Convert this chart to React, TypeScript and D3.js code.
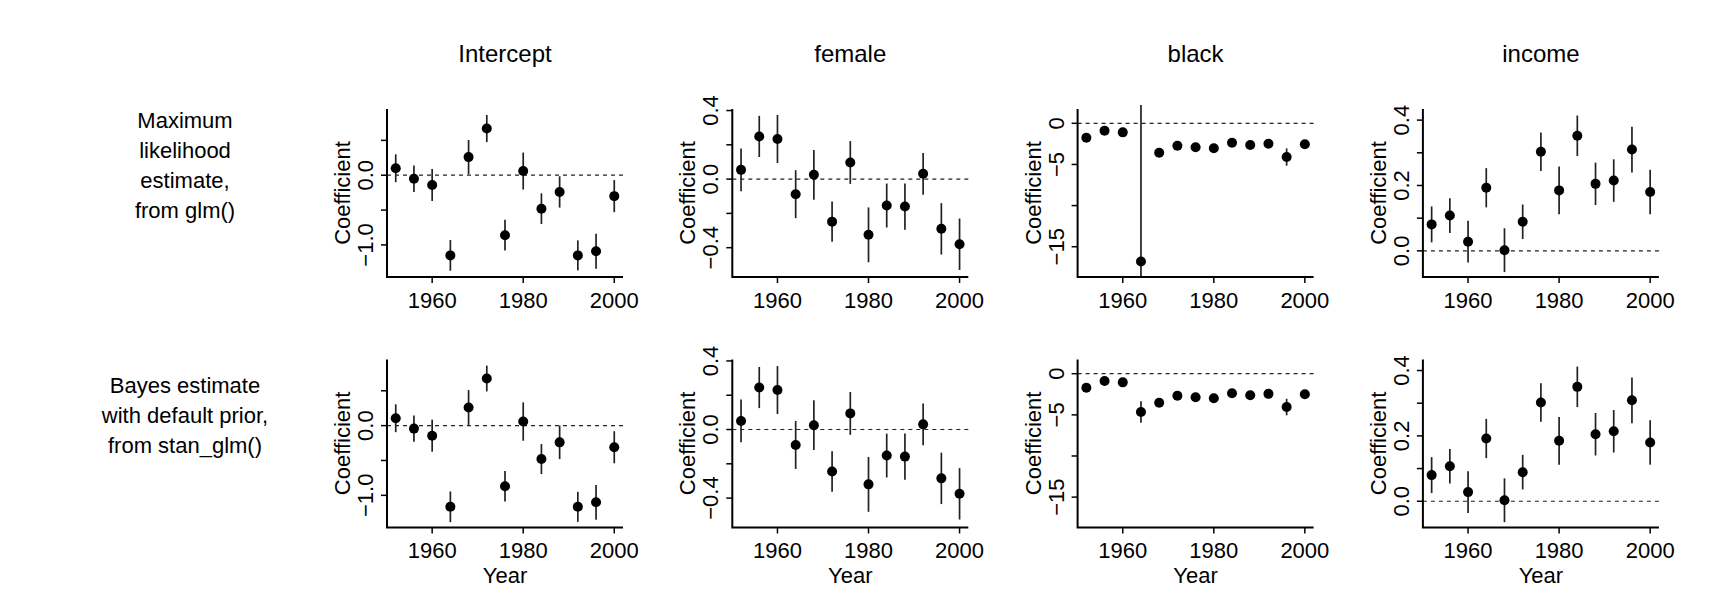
import { useEffect } from 'react'
import * as d3 from 'd3'

const YEARS = [1952, 1956, 1960, 1964, 1968, 1972, 1976, 1980, 1984, 1988, 1992, 1996, 2000]
const COLUMNS = ['Intercept', 'female', 'black', 'income']
const ROW_LABELS = [
  ['Maximum', 'likelihood', 'estimate,', 'from glm()'],
  ['Bayes estimate', 'with default prior,', 'from stan_glm()'],
]

// maximum likelihood (glm)
const ML_INTERCEPT = [0.10, -0.05, -0.14, -1.15, 0.26, 0.67, -0.86, 0.06, -0.48, -0.24, -1.15, -1.09, -0.30]
const ML_INTERCEPT_SE = [0.20, 0.19, 0.23, 0.22, 0.245, 0.195, 0.22, 0.265, 0.22, 0.225, 0.215, 0.25, 0.23]
const ML_FEMALE = [0.054, 0.249, 0.234, -0.088, 0.025, -0.248, 0.097, -0.325, -0.154, -0.16, 0.031, -0.29, -0.38]
const ML_FEMALE_SE = [0.125, 0.12, 0.14, 0.14, 0.145, 0.118, 0.125, 0.16, 0.128, 0.135, 0.122, 0.15, 0.15]
const ML_BLACK = [-1.75, -0.9, -1.1, -16.8, -3.57, -2.72, -2.92, -3.04, -2.36, -2.64, -2.48, -4.1, -2.55]
const ML_BLACK_SE = [0.4, 0.35, 0.4, 1000, 0.4, 0.3, 0.3, 0.3, 0.3, 0.3, 0.35, 1.05, 0.4]
const ML_INCOME = [0.081, 0.108, 0.028, 0.193, 0.002, 0.089, 0.303, 0.185, 0.352, 0.205, 0.215, 0.31, 0.18]
const ML_INCOME_SE = [0.055, 0.053, 0.064, 0.06, 0.067, 0.053, 0.059, 0.073, 0.062, 0.065, 0.065, 0.07, 0.068]

// bayes (stan_glm)
const BA_INTERCEPT = [0.106, -0.043, -0.144, -1.165, 0.26, 0.676, -0.87, 0.058, -0.48, -0.24, -1.165, -1.10, -0.31]
const BA_INTERCEPT_SE = [0.20, 0.19, 0.23, 0.22, 0.25, 0.185, 0.22, 0.275, 0.215, 0.24, 0.215, 0.25, 0.23]
const BA_FEMALE = [0.05, 0.245, 0.23, -0.09, 0.025, -0.245, 0.094, -0.32, -0.152, -0.158, 0.03, -0.285, -0.375]
const BA_FEMALE_SE = [0.125, 0.12, 0.14, 0.14, 0.145, 0.118, 0.125, 0.16, 0.128, 0.135, 0.122, 0.15, 0.15]
const BA_BLACK = [-1.70, -0.89, -1.05, -4.65, -3.52, -2.67, -2.87, -2.99, -2.38, -2.62, -2.45, -4.05, -2.5]
const BA_BLACK_SE = [0.4, 0.35, 0.4, 1.3, 0.4, 0.3, 0.3, 0.3, 0.3, 0.3, 0.35, 1.0, 0.4]
const BA_INCOME = [0.08, 0.107, 0.028, 0.192, 0.003, 0.089, 0.302, 0.185, 0.35, 0.205, 0.214, 0.309, 0.18]
const BA_INCOME_SE = [0.055, 0.053, 0.064, 0.06, 0.067, 0.053, 0.059, 0.073, 0.062, 0.065, 0.065, 0.07, 0.068]

// y ranges (already padded like R's default 4%)
const YLIMS: [number, number][] = [[-1.46, 0.95], [-0.571, 0.409], [-18.68, 1.74], [-0.080, 0.434]]
const YTICKS = [[-1, -0.5, 0, 0.5], [-0.4, -0.2, 0, 0.2, 0.4], [-15, -10, -5, 0], [0, 0.1, 0.2, 0.3, 0.4]]
const YLABELS = [[-1, 0], [-0.4, 0, 0.4], [-15, -5, 0], [0, 0.2, 0.4]]
const YFMT = [d3.format('.1f'), d3.format('.1f'), d3.format('d'), d3.format('.1f')]
const XLIM: [number, number] = [1950.08, 2001.92]
const XTICKS = [1960, 1980, 2000]

const PANELS = [
  [[ML_INTERCEPT, ML_INTERCEPT_SE], [ML_FEMALE, ML_FEMALE_SE], [ML_BLACK, ML_BLACK_SE], [ML_INCOME, ML_INCOME_SE]],
  [[BA_INTERCEPT, BA_INTERCEPT_SE], [BA_FEMALE, BA_FEMALE_SE], [BA_BLACK, BA_BLACK_SE], [BA_INCOME, BA_INCOME_SE]],
]

const W = 1722
const H = 615
const FONT = '"Liberation Sans", Arial, Helvetica, sans-serif'
const PLOT_W = 236
const PLOT_H = 168
const COL_X = [387, 732.3, 1077.6, 1422.9]
const ROW_Y = [109, 359.4]
const fmtMinus = (s: string) => s.replace('-', '\u2212')

function Panel({ row, col }: { row: number; col: number }) {
  const x0 = COL_X[col]
  const y0 = ROW_Y[row]
  const [est, se] = PANELS[row][col]
  const x = d3.scaleLinear().domain(XLIM).range([x0, x0 + PLOT_W])
  const y = d3.scaleLinear().domain(YLIMS[col]).range([y0 + PLOT_H, y0])
  const clampY = (v: number) => Math.max(y0 - 4, Math.min(y0 + PLOT_H, y(v)))
  const axisX = x0
  const axisY = y0 + PLOT_H
  return (
    <g>
      {/* zero line */}
      <line x1={x0} x2={x0 + PLOT_W} y1={y(0)} y2={y(0)} stroke="#222" strokeWidth={1.2} strokeDasharray="4,4" />
      {/* error bars */}
      {YEARS.map((yr, i) => (
        <line key={'e' + yr} x1={x(yr)} x2={x(yr)} y1={clampY(est[i] + se[i])} y2={clampY(est[i] - se[i])}
          stroke="#222" strokeWidth={1.7} />
      ))}
      {YEARS.map((yr, i) => (
        <circle key={'p' + yr} cx={x(yr)} cy={y(est[i])} r={5} fill="#000" />
      ))}
      {/* L-shaped box */}
      <path d={`M${axisX},${y0}V${axisY}H${x0 + PLOT_W}`} fill="none" stroke="#000" strokeWidth={2} />
      {/* y ticks */}
      {YTICKS[col].map(t => (
        <line key={'yt' + t} x1={axisX} x2={axisX - 6} y1={y(t)} y2={y(t)} stroke="#000" strokeWidth={1.5} />
      ))}
      {YLABELS[col].map(t => (
        <text key={'yl' + t} transform={`translate(${axisX - 14},${y(t)}) rotate(-90)`} textAnchor="middle"
          fontSize={22} fontFamily={FONT} fill="#000">{fmtMinus(YFMT[col](t))}</text>
      ))}
      <text transform={`translate(${axisX - 37},${y0 + PLOT_H / 2}) rotate(-90)`} textAnchor="middle"
        fontSize={22} fontFamily={FONT} fill="#000">Coefficient</text>
      {/* x ticks */}
      {XTICKS.map(t => (
        <g key={'xt' + t}>
          <line x1={x(t)} x2={x(t)} y1={axisY} y2={axisY + 6} stroke="#000" strokeWidth={1.5} />
          <text x={x(t)} y={axisY + 31} textAnchor="middle" fontSize={22} fontFamily={FONT} fill="#000">{t}</text>
        </g>
      ))}
      {row === 1 && (
        <text x={x0 + PLOT_W / 2} y={axisY + 56} textAnchor="middle" fontSize={22} fontFamily={FONT} fill="#000">Year</text>
      )}
      {row === 0 && (
        <text x={x0 + PLOT_W / 2} y={62} textAnchor="middle" fontSize={24} fontFamily={FONT} fill="#000">{COLUMNS[col]}</text>
      )}
    </g>
  )
}

export default function App() {
  useEffect(() => {
    document.body.style.margin = '0'
  }, [])
  return (
    <svg width={W} height={H} style={{ display: 'block', background: '#fff' }}>
      <rect width={W} height={H} fill="#fff" />
      {ROW_LABELS.map((lines, r) => {
        const cy = ROW_Y[r] + PLOT_H / 2 - 28
        const lh = 30
        const start = cy - ((lines.length - 1) * lh) / 2 + 8
        return (
          <text key={r} textAnchor="middle" fontSize={22} fontFamily={FONT} fill="#000">
            {lines.map((l, i) => (
              <tspan key={i} x={185} y={start + i * lh}>{l}</tspan>
            ))}
          </text>
        )
      })}
      {[0, 1].map(r => [0, 1, 2, 3].map(c => <Panel key={`${r}-${c}`} row={r} col={c} />))}
    </svg>
  )
}
